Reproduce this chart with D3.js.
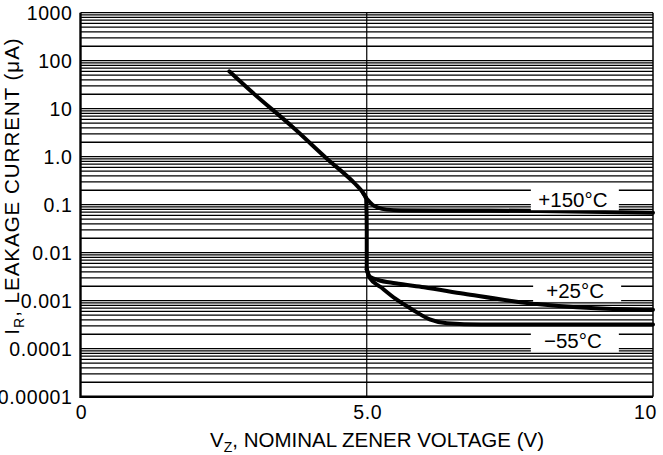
<!DOCTYPE html>
<html>
<head>
<meta charset="utf-8">
<script src="https://cdn.jsdelivr.net/npm/d3@7"></script>
<style>
  body { margin: 0; background: #fff; }
  text { font-family: "Liberation Sans", Arial, sans-serif; fill: #000; }
</style>
</head>
<body>
<div id="chart"></div>
<script>
// leakage current vs nominal zener voltage
var commonV = [2.6, 3.0, 3.7, 4.3, 4.8, 4.93, 4.99, 5.0, 5.0];
var commonI = [60, 22, 4.2, 0.92, 0.27, 0.18, 0.13, 0.03, 0.0045];

var hotV = [4.93, 5.02, 5.1, 5.2, 5.35, 5.6, 6.5, 8.0, 10];
var hotI = [0.18, 0.125, 0.1, 0.087, 0.079, 0.076, 0.075, 0.074, 0.068];

var roomV = [5.0, 5.05, 5.2, 5.5, 6.0, 6.7, 7.8, 9.0, 10];
var roomI = [0.0045, 0.0032, 0.0027, 0.0023, 0.0019, 0.0014, 0.0009, 0.0007, 0.00065];

var coldV = [5.0, 5.05, 5.25, 5.5, 5.8, 6.1, 6.4, 7.0, 10];
var coldI = [0.0045, 0.003, 0.0019, 0.0011, 0.00065, 0.00041, 0.00034, 0.00032, 0.00032];

var seriesLabels = ["+150°C", "+25°C", "\u221255°C"];
var labelV = [8.6, 8.64, 8.6];
var labelI = [0.13, 0.0016, 0.000145];

var yTickVals = [0.00001, 0.0001, 0.001, 0.01, 0.1, 1, 10, 100, 1000];
var yTickText = ["0.00001", "0.0001", "0.001", "0.01", "0.1", "1.0", "10", "100", "1000"];
var xTickVals = [0, 5, 10];
var xTickText = ["0", "5.0", "10"];

var W = 663, H = 455;
var margin = {top: 12.7, right: 10, bottom: 58.3, left: 80.5};

var svg = d3.select("#chart")
    .append("svg")
    .attr("width", W)
    .attr("height", H);

var xScale = d3.scaleLinear()
    .domain([0, 10])
    .range([margin.left, W - margin.right]);

var yScale = d3.scaleLog()
    .domain([0.00001, 1000])
    .range([H - margin.bottom, margin.top]);

/* horizontal grid at every log step */
var gridVals = [];
for (var e = -5; e < 3; e++) {
    for (var m = 1; m < 10; m++) {
        gridVals.push(m * Math.pow(10, e));
    }
}
gridVals.push(1000);

svg.append("g")
    .attr("class", "grid")
    .selectAll("line")
    .data(gridVals)
    .enter().append("line")
    .attr("x1", xScale(0))
    .attr("x2", xScale(10))
    .attr("y1", function (d) { return yScale(d); })
    .attr("y2", function (d) { return yScale(d); })
    .attr("stroke", "#000")
    .attr("stroke-width", 1.3);

// the one vertical rule at 5 V
svg.append("line")
    .attr("x1", xScale(5)).attr("x2", xScale(5))
    .attr("y1", yScale(1000)).attr("y2", yScale(0.00001))
    .attr("stroke", "#000")
    .attr("stroke-width", 1.2);

// right edge
svg.append("line")
    .attr("x1", xScale(10)).attr("x2", xScale(10))
    .attr("y1", yScale(1000)).attr("y2", yScale(0.00001))
    .attr("stroke", "#000")
    .attr("stroke-width", 1.5);

// left + bottom heavier
svg.append("path")
    .attr("d", "M" + xScale(0) + "," + yScale(1000) + "V" + yScale(0.00001) + "H" + xScale(10))
    .attr("fill", "none")
    .attr("stroke", "#000")
    .attr("stroke-width", 2.4);

/* curves */
function pts(xs, ys) {
    return xs.map(function (v, i) { return [v, ys[i]]; });
}

var lineY = d3.line()
    .x(function (d) { return xScale(d[0]); })
    .y(function (d) { return yScale(d[1]); })
    .curve(d3.curveMonotoneY);

var lineX = d3.line()
    .x(function (d) { return xScale(d[0]); })
    .y(function (d) { return yScale(d[1]); })
    .curve(d3.curveMonotoneX);

var curves = svg.append("g")
    .attr("fill", "none")
    .attr("stroke", "#000")
    .attr("stroke-width", 4)
    .attr("stroke-linejoin", "round")
    .attr("stroke-linecap", "round");

curves.append("path").attr("d", lineY(pts(commonV, commonI)));
curves.append("path").attr("d", lineX(pts(hotV, hotI)));
curves.append("path").attr("d", lineX(pts(roomV, roomI)));
curves.append("path").attr("d", lineX(pts(coldV, coldI)));

/* series labels on white */
var lab = svg.selectAll(".lab")
    .data(seriesLabels)
    .enter().append("g")
    .attr("class", "lab")
    .attr("transform", function (d, i) {
        return "translate(" + xScale(labelV[i]) + "," + yScale(labelI[i]) + ")";
    });

lab.append("rect")
    .attr("x", -42)
    .attr("y", -11)
    .attr("width", 88)
    .attr("height", 22)
    .attr("fill", "#fff");

lab.append("text")
    .attr("text-anchor", "middle")
    .attr("dy", "0.36em")
    .style("font-size", "20.5px")
    .text(function (d) { return d; });

/* tick labels */
svg.append("g")
    .selectAll("text")
    .data(yTickVals)
    .enter().append("text")
    .attr("x", xScale(0) - 8)
    .attr("y", function (d) { return yScale(d); })
    .attr("dy", "0.36em")
    .attr("text-anchor", "end")
    .style("font-size", "19.5px")
    .style("letter-spacing", "0.6px")
    .text(function (d, i) { return yTickText[i]; });

svg.append("g")
    .selectAll("text")
    .data(xTickVals)
    .enter().append("text")
    .attr("x", function (d) { return d == 10 ? xScale(d) + 4 : xScale(d) + 1; })
    .attr("y", 419)
    .attr("text-anchor", function (d) { return d == 10 ? "end" : "middle"; })
    .style("font-size", "19.5px")
    .style("letter-spacing", "0.6px")
    .text(function (d, i) { return xTickText[i]; });

/* axis titles */
var xt = svg.append("text")
    .attr("x", 377)
    .attr("y", 447)
    .attr("text-anchor", "middle")
    .style("font-size", "20.5px");
xt.append("tspan").text("V");
xt.append("tspan").attr("dy", 5).style("font-size", "14px").text("Z");
xt.append("tspan").attr("dy", -5).text(", NOMINAL ZENER VOLTAGE (V)");

var yt = svg.append("text")
    .attr("transform", "translate(19,186) rotate(-90)")
    .attr("text-anchor", "middle")
    .style("font-size", "20.5px")
    .style("letter-spacing", "1px");
yt.append("tspan").text("I");
yt.append("tspan").attr("dy", 5).style("font-size", "14px").text("R");
yt.append("tspan").attr("dy", -5).text(", LEAKAGE CURRENT (\u03bcA)");
</script>
</body>
</html>
